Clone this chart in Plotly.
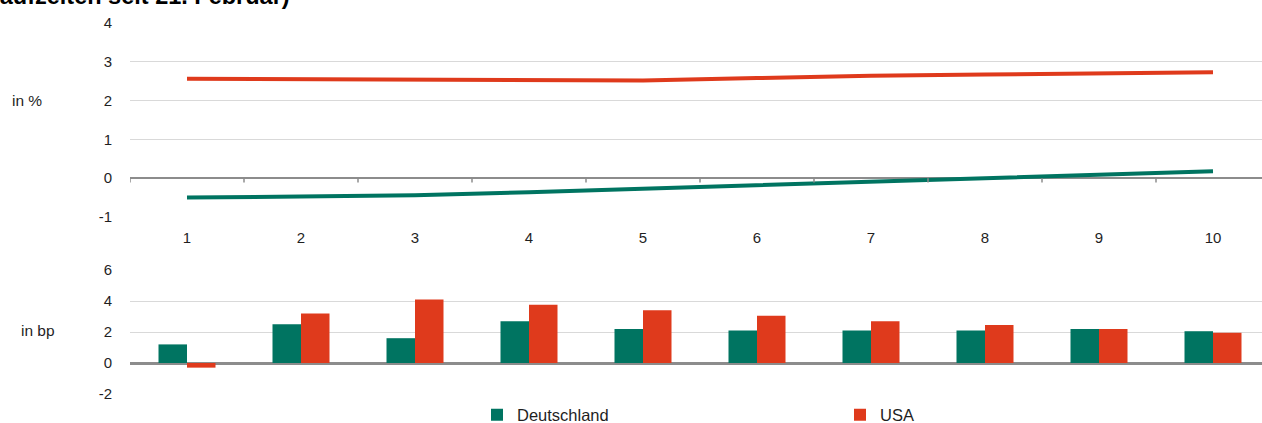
import plotly.graph_objects as go

# Restlaufzeit in Jahren
laufzeit = [1, 2, 3, 4, 5, 6, 7, 8, 9, 10]

# Renditen in %
rendite_de = [-0.50, -0.47, -0.44, -0.36, -0.27, -0.18, -0.10, -0.02, 0.08, 0.18]
rendite_us = [2.56, 2.55, 2.52, 2.52, 2.52, 2.58, 2.64, 2.67, 2.70, 2.73]

# Veränderung in Basispunkten
aend_de = [1.2, 2.5, 1.6, 2.7, 2.2, 2.1, 2.1, 2.1, 2.2, 2.05]
aend_us = [-0.3, 3.2, 4.1, 3.75, 3.4, 3.05, 2.7, 2.45, 2.2, 1.95]

top_ticks = [-1, 0, 1, 2, 3, 4]
top_tick_text = ["-1", "0", "1", "2", "3", "4"]
bottom_ticks = [-2, 0, 2, 4, 6]
bottom_tick_text = ["-2", "0", "2", "4", "6"]

W, H = 1262, 423
GREEN = "#007461"
RED = "#DF3A1C"
GRID = "#D9D9D9"
AXIS = "#8C8C8C"
FONT = "Liberation Sans, Arial, sans-serif"
TXT = "#1F1F1F"

x_left = 130
slot = 114
x_range = [laufzeit[0] - 0.5, laufzeit[0] - 0.5 + (W - x_left) / slot]


def fy(px):
    return 1 - px / H


fig = go.Figure()

fig.add_trace(go.Scatter(x=laufzeit, y=rendite_us, mode="lines", name="USA",
                         line=dict(color=RED, width=4), showlegend=False,
                         xaxis="x", yaxis="y"))
fig.add_trace(go.Scatter(x=laufzeit, y=rendite_de, mode="lines", name="Deutschland",
                         line=dict(color=GREEN, width=4), showlegend=False,
                         xaxis="x", yaxis="y"))

fig.add_trace(go.Bar(x=laufzeit, y=aend_de, name="Deutschland", marker_color=GREEN,
                     marker_line_width=0, xaxis="x2", yaxis="y2"))
fig.add_trace(go.Bar(x=laufzeit, y=aend_us, name="USA", marker_color=RED,
                     marker_line_width=0, xaxis="x2", yaxis="y2"))

# Teilstriche an den Kategoriegrenzen auf der Nulllinie
shapes = []
for k in range(len(laufzeit) + 1):
    xb = laufzeit[0] - 0.5 + k
    shapes.append(dict(type="line", xref="x", yref="y", x0=xb, x1=xb, y0=0, y1=-0.11,
                       line=dict(color=AXIS, width=1.5)))

axis_common = dict(showgrid=False, zeroline=False, showline=False, ticks="",
                   range=x_range, domain=[x_left / W, 1], automargin=False)

fig.update_layout(
    width=W, height=H,
    margin=dict(l=0, r=0, t=0, b=0, autoexpand=False),
    paper_bgcolor="white", plot_bgcolor="white",
    font=dict(family=FONT, size=15, color=TXT),
    barmode="group", bargap=0.5, bargroupgap=0,
    xaxis=dict(**axis_common, anchor="y", tickvals=laufzeit,
               tickfont=dict(size=15), ticklabelstandoff=10),
    yaxis=dict(domain=[fy(217), fy(23)], range=[-1, 4],
               tickvals=top_ticks, ticktext=top_tick_text,
               showgrid=True, gridcolor=GRID, gridwidth=1.3,
               zeroline=True, zerolinecolor=AXIS, zerolinewidth=2,
               showline=False, ticks="", ticklabelstandoff=17, automargin=False),
    xaxis2=dict(**axis_common, anchor="y2", tickvals=laufzeit, showticklabels=False),
    yaxis2=dict(domain=[fy(394), fy(270)], range=[-2, 6],
                tickvals=bottom_ticks, ticktext=bottom_tick_text,
                showgrid=True, gridcolor=GRID, gridwidth=1.3,
                zeroline=True, zerolinecolor=AXIS, zerolinewidth=2.5,
                showline=False, ticks="", ticklabelstandoff=17, automargin=False),
    shapes=shapes,
    legend=dict(orientation="h", x=477 / W, xanchor="left", y=fy(415), yanchor="middle",
                font=dict(size=16.5, color=TXT), entrywidth=318, entrywidthmode="pixels",
                itemwidth=30, bgcolor="rgba(0,0,0,0)", traceorder="normal"),
    annotations=[
        dict(text="in %", x=10 / W, y=fy(100), xref="paper", yref="paper",
             xanchor="left", yanchor="middle", showarrow=False, font=dict(size=15.5)),
        dict(text="in bp", x=19 / W, y=fy(330), xref="paper", yref="paper",
             xanchor="left", yanchor="middle", showarrow=False, font=dict(size=15.5)),
        dict(text="<b>(Renditen nach Restlaufzeiten seit 21. Februar)</b>",
             x=292 / W, y=fy(-4), xref="paper", yref="paper", xanchor="right",
             yanchor="middle", showarrow=False, font=dict(size=23.5, color="#000000")),
    ],
)

fig.write_html("out.html")
